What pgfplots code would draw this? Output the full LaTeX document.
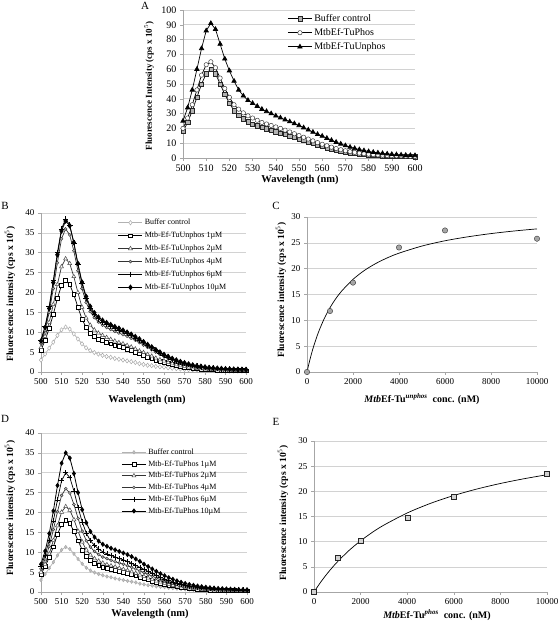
\documentclass[border=0pt]{standalone}
\usepackage{pgfplots}
\pgfplotsset{compat=1.18}
\usepackage{pgfplotstable}
\usepackage{fontspec}
\setmainfont{Liberation Serif}

\pgfplotstableread{
x buf phos unphos
500 18 20 25
502 24 27 34
504 32 36 46
506 41 46 60
508 50 56 74
510 57 63 86
512 60 65 91
514 57 61 87
516 50 54 77
518 43 47 67
520 37 41 59
522 32 36 52
524 29 33 46
526 26.5 30.5 42
528 24.5 28.5 39
530 23 27 37
532 21.8 25.5 35
534 20.8 24 33
536 19.8 23 31.5
538 18.8 22 30
540 17.8 21 28.5
542 16.8 20 27.2
544 15.8 18.8 25.9
546 14.8 17.6 24.6
548 13.8 16.4 23.3
550 12.8 15.2 22
552 11.8 14 20.5
554 10.8 12.8 19
556 9.8 11.6 17.5
558 8.8 10.4 16
560 7.9 9.3 14.8
562 7 8.3 13.4
564 6.2 7.3 12
566 5.4 6.4 10.7
568 4.7 5.6 9.5
570 4.1 4.9 8.4
572 3.6 4.3 7.4
574 3.1 3.8 6.5
576 2.7 3.3 5.7
578 2.4 2.9 5
580 2.1 2.6 4.4
582 1.9 2.3 3.9
584 1.7 2.1 3.5
586 1.5 1.9 3.1
588 1.4 1.7 2.8
590 1.3 1.6 2.5
592 1.2 1.5 2.3
594 1.1 1.4 2.1
596 1 1.3 1.9
598 0.95 1.2 1.8
600 0.9 1.1 1.7
}\tabA

\pgfplotstableread{
x buf c1 c2 c4 c6 c10
500 3.0 5.5 6.2 7.2 8.0 7.8
502 4.5 8.0 9.0 10.5 11.5 11.2
504 6.0 11.0 12.5 15.0 16.5 16.0
506 7.5 14.5 17.0 21.0 23.0 22.5
508 9.2 18.5 22.0 27.5 30.0 29.5
510 10.6 21.8 26.5 33.5 36.0 35.5
512 11.3 23.0 28.5 36.0 38.5 38.0
514 10.8 22.0 27.3 34.5 37.0 36.8
516 9.6 19.5 24.0 30.5 32.5 32.6
518 8.3 16.3 20.0 25.5 27.0 27.3
520 7.1 13.3 16.3 21.0 22.3 22.6
522 6.1 11.2 13.6 17.5 18.6 19.0
524 5.4 9.8 11.8 15.2 16.1 16.5
526 4.9 8.9 10.6 13.7 14.5 14.9
528 4.5 8.3 9.8 12.6 13.4 13.8
530 4.2 7.9 9.2 11.8 12.6 13.0
532 3.9 7.5 8.7 11.2 12.0 12.4
534 3.7 7.1 8.2 10.7 11.5 11.9
536 3.4 6.8 7.8 10.2 11.0 11.4
538 3.2 6.5 7.4 9.8 10.6 11.0
540 3.0 6.2 7.1 9.4 10.2 10.5
542 2.8 5.8 6.7 9.0 9.7 10.0
544 2.6 5.4 6.3 8.5 9.2 9.5
546 2.4 5.0 5.8 8.0 8.6 8.9
548 2.1 4.6 5.3 7.4 8.0 8.3
550 1.9 4.2 4.9 6.8 7.4 7.6
552 1.7 3.8 4.4 6.2 6.7 6.9
554 1.6 3.4 4.0 5.6 6.1 6.3
556 1.4 3.0 3.5 5.0 5.4 5.6
558 1.3 2.7 3.1 4.4 4.8 5.0
560 1.2 2.4 2.8 3.9 4.2 4.4
562 1.05 2.1 2.4 3.4 3.7 3.9
564 0.95 1.85 2.1 3.0 3.2 3.4
566 0.85 1.6 1.85 2.6 2.8 3.0
568 0.75 1.4 1.6 2.3 2.45 2.6
570 0.65 1.25 1.4 2.0 2.15 2.3
572 0.6 1.1 1.25 1.75 1.9 2.0
574 0.55 0.95 1.1 1.55 1.65 1.75
576 0.5 0.85 0.95 1.35 1.45 1.55
578 0.45 0.75 0.85 1.2 1.3 1.4
580 0.4 0.65 0.75 1.05 1.15 1.25
582 0.38 0.6 0.68 0.95 1.05 1.12
584 0.35 0.55 0.62 0.85 0.95 1.02
586 0.33 0.5 0.56 0.78 0.87 0.94
588 0.3 0.45 0.52 0.72 0.8 0.86
590 0.28 0.42 0.48 0.66 0.74 0.8
592 0.26 0.4 0.45 0.62 0.7 0.75
594 0.25 0.38 0.42 0.58 0.66 0.7
596 0.24 0.36 0.4 0.55 0.62 0.67
598 0.23 0.34 0.38 0.52 0.6 0.64
600 0.22 0.32 0.36 0.5 0.58 0.62
}\tabB

\pgfplotstableread{
x buf c1 c2 c4 c6 c10
500 3.0 4.5 5.0 5.8 6.4 7.0
502 4.5 6.4 7.0 8.3 9.3 10.3
504 6.0 8.7 9.6 11.5 13.0 14.7
506 7.5 11.4 13.0 15.7 17.9 20.4
508 9.2 14.5 16.7 20.2 23.2 26.8
510 10.6 17.0 20.1 24.3 28.0 32.4
512 11.3 18.0 21.5 26.0 30.0 35.0
514 10.8 17.2 20.6 24.9 28.8 33.7
516 9.6 15.3 18.2 22.0 25.4 29.8
518 8.3 12.9 15.3 18.5 21.3 25.0
520 7.1 10.6 12.6 15.3 17.6 20.7
522 6.1 9.0 10.6 12.9 14.8 17.4
524 5.4 7.9 9.3 11.3 12.9 15.2
526 4.9 7.2 8.4 10.2 11.7 13.8
528 4.5 6.7 7.8 9.4 10.8 12.8
530 4.2 6.3 7.3 8.8 10.1 12.0
532 3.9 6.0 6.9 8.4 9.6 11.5
534 3.7 5.7 6.6 8.0 9.2 11.0
536 3.4 5.5 6.3 7.6 8.8 10.6
538 3.2 5.2 6.0 7.3 8.4 10.2
540 3.0 5.0 5.7 7.0 8.1 9.8
542 2.8 4.7 5.4 6.6 7.7 9.4
544 2.6 4.4 5.1 6.2 7.2 8.9
546 2.4 4.1 4.7 5.8 6.7 8.3
548 2.1 3.8 4.3 5.3 6.2 7.7
550 1.9 3.4 3.9 4.9 5.7 7.0
552 1.7 3.1 3.5 4.4 5.2 6.4
554 1.6 2.8 3.2 4.0 4.7 5.8
556 1.4 2.5 2.8 3.5 4.2 5.2
558 1.3 2.2 2.5 3.1 3.7 4.6
560 1.2 2.0 2.2 2.8 3.3 4.1
562 1.05 1.75 1.95 2.45 2.9 3.6
564 0.95 1.55 1.7 2.15 2.55 3.2
566 0.85 1.35 1.5 1.9 2.25 2.8
568 0.75 1.2 1.3 1.65 1.95 2.45
570 0.65 1.05 1.15 1.45 1.72 2.15
572 0.6 0.92 1.0 1.28 1.52 1.9
574 0.55 0.82 0.9 1.13 1.34 1.68
576 0.5 0.72 0.8 1.0 1.19 1.5
578 0.45 0.64 0.7 0.9 1.06 1.34
580 0.4 0.57 0.62 0.8 0.95 1.2
582 0.38 0.52 0.56 0.72 0.86 1.08
584 0.35 0.48 0.52 0.66 0.78 0.98
586 0.33 0.44 0.48 0.6 0.71 0.9
588 0.3 0.41 0.44 0.56 0.66 0.83
590 0.28 0.38 0.41 0.52 0.61 0.77
592 0.26 0.36 0.39 0.49 0.57 0.72
594 0.25 0.34 0.37 0.46 0.54 0.68
596 0.24 0.32 0.35 0.44 0.51 0.64
598 0.23 0.31 0.33 0.42 0.49 0.61
600 0.22 0.3 0.32 0.4 0.47 0.58
}\tabD

\pgfplotsset{
  mystyle/.style={
    scale only axis,
    axis lines*=left,
    axis line style={gray!70, line width=0.6pt},
    ymajorgrids,
    grid style={gray!35, line width=0.6pt},
    tick style={gray!70, line width=0.5pt},
    major tick length=3pt,
    tick align=outside,
    /pgf/number format/assume math mode=true,
    /pgf/number format/1000 sep={},
    scaled ticks=false,
    clip=false,
    legend cell align=left,
    legend image code/.code={\draw[mark repeat=2,mark phase=2] plot coordinates {(0pt,0pt) (12pt,0pt) (24pt,0pt)};},
  },
  spec/.style={
    mystyle,
    xmin=500, xmax=600, ymin=0,
    xtick={500,510,...,600},
    tick label style={font=\fontsize{9}{10}\selectfont},
  },
}

\begin{document}
\begin{tikzpicture}[x=1pt,y=1pt]
\useasboundingbox (0,0) rectangle (560,627);

% ---------------- A ----------------
\begin{axis}[spec, at={(183pt,469pt)}, anchor=south west, width=232pt, height=148pt,
  ymax=100, ytick={0,10,...,100},
  tick label style={font=\fontsize{10}{11}\selectfont},
  legend style={at={(0.45,0.985)}, anchor=north west, draw=none, fill=none,
    font=\fontsize{10}{12}\selectfont, row sep=1.5pt, inner sep=0pt}]
\addplot[black, line width=0.7pt, mark=square*, mark size=2.1pt,
  mark options={fill=gray!60, draw=gray!30!black, line width=0.45pt}] table[x=x,y=buf]{\tabA};
\addlegendentry{Buffer control}
\addplot[black, line width=0.7pt, mark=*, mark size=2.2pt,
  mark options={fill=white, draw=gray!40!black, line width=0.45pt}] table[x=x,y=phos]{\tabA};
\addlegendentry{MtbEf-TuPhos}
\addplot[black, line width=0.7pt, mark=triangle*, mark size=2.5pt,
  mark options={fill=black, draw=black}] table[x=x,y=unphos]{\tabA};
\addlegendentry{MtbEf-TuUnphos}
\end{axis}

% ---------------- B ----------------
\begin{axis}[spec, at={(41pt,255pt)}, anchor=south west, width=205pt, height=159pt,
  ymax=40, ytick={0,5,...,40},
  legend style={at={(0.375,0.975)}, anchor=north west, draw=none, fill=none,
    font=\fontsize{8}{9.5}\selectfont, row sep=1.8pt, inner sep=0pt}]
\addplot[gray!60, line width=0.7pt, mark=diamond*, mark size=2.2pt,
  mark options={fill=white, draw=gray!70, line width=0.45pt}] table[x=x,y=buf]{\tabB};
\addlegendentry{Buffer control}
\addplot[black, line width=0.7pt, mark=square*, mark size=1.9pt,
  mark options={fill=white, draw=black, line width=0.5pt}] table[x=x,y=c1]{\tabB};
\addlegendentry{Mtb-Ef-TuUnphos 1µM}
\addplot[black!80, line width=0.7pt, mark=triangle*, mark size=2.3pt,
  mark options={fill=white, draw=black!70, line width=0.5pt}] table[x=x,y=c2]{\tabB};
\addlegendentry{Mtb-Ef-TuUnphos 2µM}
\addplot[black!80, line width=0.7pt, mark=*, mark size=1.5pt,
  mark options={fill=gray!60, draw=gray!40!black, line width=0.4pt}] table[x=x,y=c4]{\tabB};
\addlegendentry{Mtb-Ef-TuUnphos 4µM}
\addplot[black, line width=0.7pt, mark=+, mark size=2.8pt,
  mark options={draw=black, line width=0.55pt}] table[x=x,y=c6]{\tabB};
\addlegendentry{Mtb-Ef-TuUnphos 6µM}
\addplot[black, line width=0.8pt, mark=diamond*, mark size=2.3pt,
  mark options={fill=black, draw=black}] table[x=x,y=c10]{\tabB};
\addlegendentry{Mtb-Ef-TuUnphos 10µM}
\end{axis}

% ---------------- C ----------------
\begin{axis}[mystyle, at={(307pt,255pt)}, anchor=south west, width=230pt, height=155pt,
  xmin=0, xmax=10000, ymin=0, ymax=30, xtick={0,2000,...,10000}, ytick={0,5,...,30},
  tick label style={font=\fontsize{9}{10}\selectfont}]
\addplot[black, line width=0.7pt, smooth, no marks] coordinates {
(0,0) (100,1.91) (200,3.61) (300,5.13) (500,7.72) (750,10.34) (1000,12.45) (1250,14.18)
(1500,15.63) (2000,17.93) (2500,19.67) (3000,21.02) (3500,22.11) (4000,23.00) (5000,24.38)
(6000,25.40) (7000,26.17) (8000,26.79) (9000,27.29) (10000,27.70)};
\addplot[only marks, mark=*, mark size=2.7pt, mark options={fill=gray!70, draw=gray!40!black, line width=0.4pt}]
coordinates {(0,0) (1000,11.8) (2000,17.3) (4000,24.1) (6000,27.4) (10000,25.8)};
\end{axis}

% ---------------- D ----------------
\begin{axis}[spec, at={(41pt,35pt)}, anchor=south west, width=206pt, height=159pt,
  ymax=40, ytick={0,5,...,40},
  legend style={at={(0.39,0.915)}, anchor=north west, draw=none, fill=none,
    font=\fontsize{8}{9.5}\selectfont, row sep=0.6pt, inner sep=0pt}]
\addplot[gray!60, line width=0.7pt, mark=diamond*, mark size=1.8pt,
  mark options={fill=gray!50, draw=gray!70, line width=0.4pt}] table[x=x,y=buf]{\tabD};
\addlegendentry{Buffer control}
\addplot[black, line width=0.7pt, mark=square*, mark size=1.9pt,
  mark options={fill=white, draw=black, line width=0.5pt}] table[x=x,y=c1]{\tabD};
\addlegendentry{Mtb-Ef-TuPhos 1µM}
\addplot[black!80, line width=0.7pt, mark=triangle*, mark size=2.3pt,
  mark options={fill=white, draw=black!70, line width=0.5pt}] table[x=x,y=c2]{\tabD};
\addlegendentry{Mtb-Ef-TuPhos 2µM}
\addplot[black!80, line width=0.7pt, mark=*, mark size=1.5pt,
  mark options={fill=gray!60, draw=gray!40!black, line width=0.4pt}] table[x=x,y=c4]{\tabD};
\addlegendentry{Mtb-Ef-TuPhos 4µM}
\addplot[black, line width=0.7pt, mark=+, mark size=2.6pt,
  mark options={draw=black, line width=0.55pt}] table[x=x,y=c6]{\tabD};
\addlegendentry{Mtb-Ef-TuPhos 6µM}
\addplot[black, line width=0.8pt, mark=diamond*, mark size=2pt,
  mark options={fill=black, draw=black}] table[x=x,y=c10]{\tabD};
\addlegendentry{Mtb-Ef-TuPhos 10µM}
\end{axis}

% ---------------- E ----------------
\begin{axis}[mystyle, at={(314pt,35pt)}, anchor=south west, width=233pt, height=151pt,
  xmin=0, xmax=10000, ymin=0, ymax=30, xtick={0,2000,...,10000}, ytick={0,5,...,30},
  tick label style={font=\fontsize{9}{10}\selectfont}]
\addplot[black, line width=0.7pt, smooth, no marks] coordinates {
(0,0) (250,1.72) (500,3.27) (750,4.68) (1000,5.97) (1500,8.24) (2000,10.17) (2500,11.84)
(3000,13.29) (4000,15.70) (5000,17.61) (6000,19.17) (7000,20.47) (8000,21.56) (9000,22.49) (10000,23.30)};
\addplot[only marks, mark=square*, mark size=2.5pt, mark options={fill=gray!35, draw=gray!30!black, line width=0.4pt}]
coordinates {(0,0) (1000,6.8) (2000,10.2) (4000,14.7) (6000,18.9) (10000,23.6)};
\end{axis}

% ---------------- labels ----------------
\node[font=\fontsize{11}{12}\selectfont] at (145,621) {A};
\node[font=\fontsize{11}{12}\selectfont] at (5,421) {B};
\node[font=\fontsize{11}{12}\selectfont] at (276,421) {C};
\node[font=\fontsize{11}{12}\selectfont] at (5,208) {D};
\node[font=\fontsize{11}{12}\selectfont] at (276,205) {E};

\node[rotate=90, font=\bfseries\fontsize{9}{10}\selectfont] at (149,541) {Fluorescence Intensity (cps x 10$^5$)};
\node[font=\bfseries\fontsize{10.5}{12}\selectfont] at (300,447) {Wavelength (nm)};

\node[rotate=90, font=\bfseries\fontsize{9.5}{10}\selectfont] at (10,333) {Fluorescence intensity (cps x 10$^5$)};
\node[font=\bfseries\fontsize{10.5}{12}\selectfont] at (147,227) {Wavelength (nm)};

\node[rotate=90, font=\bfseries\fontsize{9.5}{10}\selectfont] at (281,337) {Fluorescence intensity (cps x 10$^5$)};
\node[font=\bfseries\fontsize{10}{12}\selectfont] at (422,228) {\textit{Mtb}Ef-Tu\textsuperscript{\textit{unphos}}~~conc. (nM)};

\node[rotate=90, font=\bfseries\fontsize{9.5}{10}\selectfont] at (10,119) {Fluorescence intensity (cps x 10$^5$)};
\node[font=\bfseries\fontsize{10.5}{12}\selectfont] at (150,13) {Wavelength (nm)};

\node[rotate=90, font=\bfseries\fontsize{9.5}{10}\selectfont] at (283,114) {Fluorescence intensity (cps x 10$^5$)};
\node[font=\bfseries\fontsize{10}{12}\selectfont] at (437,12) {\textit{Mtb}Ef-Tu\textsuperscript{\textit{phos}}~~conc. (nM)};
\end{tikzpicture}
\end{document}
